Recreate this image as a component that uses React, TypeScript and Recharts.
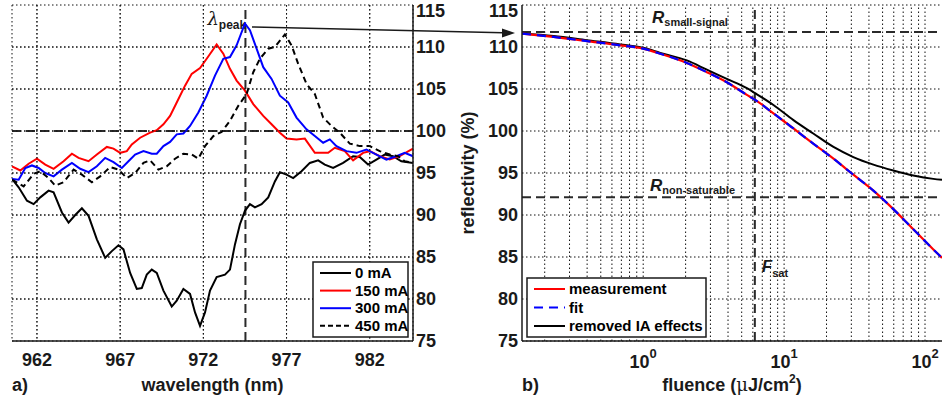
import React from "react";
import { LineChart, Line, XAxis, YAxis, CartesianGrid, ReferenceLine, Label } from "recharts";

// panel a) reflectivity spectra, wavelength in nm
const wl0 = [960.5, 960.9, 961.4, 961.8, 962.2, 962.7, 963.0, 963.5, 963.9, 964.3, 964.7, 965.1, 965.6, 966.1, 966.5, 966.9, 967.2, 967.6, 968.0, 968.3, 968.6, 968.9, 969.2, 969.6, 970.1, 970.4, 970.8, 971.2, 971.5, 971.8, 972.1, 972.4, 972.8, 973.3, 973.6, 973.9, 974.2, 974.5, 974.8, 975.1, 975.5, 975.9, 976.3, 976.6, 977.0, 977.4, 977.9, 978.4, 978.9, 979.3, 979.8, 980.4, 981.0, 981.4, 981.9, 982.4, 982.9, 983.4, 983.9, 984.6]
const r0 = [94.3, 93.3, 91.7, 91.3, 92.1, 92.9, 92.7, 90.3, 89.1, 90.0, 90.8, 89.9, 87.1, 84.9, 85.7, 86.4, 85.9, 83.1, 81.2, 81.3, 82.9, 83.5, 83.1, 81.0, 79.1, 79.8, 81.2, 80.6, 78.4, 76.8, 78.4, 81.0, 82.6, 82.9, 83.5, 86.5, 88.9, 90.5, 91.3, 90.9, 91.3, 92.1, 94.0, 95.1, 94.8, 94.4, 95.2, 96.2, 96.5, 96.0, 95.6, 96.2, 97.0, 96.9, 96.0, 96.6, 97.2, 97.0, 96.4, 96.2]

const wl150 = [960.5, 961.0, 961.5, 962.0, 962.5, 963.0, 963.6, 964.1, 964.5, 965.1, 965.6, 966.2, 966.6, 967.0, 967.4, 967.7, 968.2, 968.8, 969.2, 969.6, 970.0, 970.4, 970.9, 971.3, 971.8, 972.2, 972.8, 973.2, 973.6, 974.0, 974.5, 975.0, 975.6, 976.1, 976.6, 977.0, 977.6, 978.1, 978.7, 979.5, 979.9, 980.5, 981.0, 981.6, 982.0, 982.6, 983.2, 983.8, 984.6]
const r150 = [95.8, 95.3, 96.1, 96.7, 96.0, 95.5, 96.4, 97.3, 96.8, 96.4, 97.2, 98.1, 97.9, 97.4, 97.6, 98.4, 99.2, 99.8, 100.1, 100.8, 101.8, 103.4, 105.4, 106.8, 107.5, 108.6, 110.3, 109.2, 107.4, 106.0, 104.8, 103.2, 101.8, 100.8, 99.8, 99.1, 99.0, 99.1, 97.4, 97.4, 98.0, 97.6, 96.5, 97.4, 97.6, 97.0, 96.6, 97.0, 97.9]

const wl300 = [960.5, 960.9, 961.3, 961.7, 962.1, 962.5, 963.0, 963.5, 964.1, 964.6, 965.1, 965.6, 966.1, 966.6, 967.1, 967.5, 967.9, 968.4, 968.9, 969.2, 969.6, 970.0, 970.4, 970.8, 971.2, 971.7, 972.2, 972.7, 973.2, 973.6, 974.0, 974.5, 974.8, 975.2, 975.6, 976.1, 976.6, 977.1, 977.6, 978.2, 978.7, 979.2, 979.6, 980.0, 980.6, 981.2, 981.8, 982.4, 983.0, 983.6, 984.1, 984.6]
const r300 = [94.3, 94.2, 95.6, 95.9, 95.6, 95.0, 94.6, 95.4, 96.2, 95.5, 95.1, 95.8, 96.8, 96.3, 95.6, 96.4, 97.2, 97.6, 97.3, 97.3, 98.2, 98.7, 99.6, 99.7, 100.6, 102.2, 104.2, 106.6, 108.6, 108.8, 110.2, 112.8, 112.0, 109.8, 107.6, 106.2, 104.2, 103.4, 101.6, 100.2, 99.4, 98.6, 99.0, 98.2, 97.6, 97.4, 97.8, 97.2, 96.6, 97.0, 97.4, 97.0]

const wl450 = [960.5, 961.2, 961.8, 962.2, 962.7, 963.1, 963.6, 964.2, 964.7, 965.3, 965.8, 966.4, 966.9, 967.4, 967.9, 968.4, 968.8, 969.3, 969.8, 970.3, 970.8, 971.3, 971.7, 972.1, 972.6, 973.1, 973.6, 974.1, 974.6, 975.0, 975.4, 975.9, 976.3, 976.9, 977.3, 977.7, 978.2, 978.7, 979.2, 979.7, 980.2, 980.8, 981.4, 982.0, 982.6, 983.2, 983.7, 984.1, 984.6]
const r450 = [94.2, 93.4, 94.9, 95.2, 94.4, 93.5, 93.9, 95.4, 94.8, 93.9, 94.6, 95.7, 95.4, 94.4, 95.0, 96.2, 96.5, 95.4, 95.8, 96.7, 97.3, 97.2, 96.7, 98.2, 99.4, 99.9, 101.2, 103.0, 104.4, 107.0, 108.6, 109.8, 110.0, 111.5, 110.2, 108.0, 105.6, 104.4, 101.6, 100.6, 99.8, 98.5, 98.2, 98.2, 97.6, 97.2, 97.0, 96.4, 96.2]

const wlDomain = [960.5, 984.6]
const wlTicks = [962, 967, 972, 977, 982]
const rDomain = [75, 115]
const rTicks = [75, 80, 85, 90, 95, 100, 105, 110, 115]
const rGridA = [80, 85, 90, 95, 100, 105, 110]
const lambdaPeak = 974.53

// panel b) reflectivity vs fluence (uJ/cm^2)
const fluence = [0.138, 0.231, 0.399, 0.687, 1, 1.32, 2.04, 2.83, 3.92, 5.44, 6.23, 8.4, 11.65, 16.1, 22.4, 31.0, 43.0, 59.6, 82.6, 114.6, 132]
const measurement = [111.6, 111.2, 110.7, 110.2, 109.8, 109.2, 108.1, 107.0, 105.8, 104.3, 103.7, 102.1, 100.3, 98.5, 96.7, 94.8, 92.9, 90.7, 88.3, 85.9, 84.9]
const fit = [111.6, 111.2, 110.7, 110.2, 109.8, 109.2, 108.1, 107.0, 105.8, 104.3, 103.7, 102.1, 100.3, 98.5, 96.7, 94.8, 92.9, 90.7, 88.3, 85.9, 84.9]
const removedIA = [111.6, 111.3, 110.8, 110.3, 109.9, 109.3, 108.4, 107.3, 106.2, 105.1, 104.5, 103.1, 101.3, 99.7, 98.1, 96.9, 96.0, 95.3, 94.7, 94.3, 94.2]
const fluenceDomain = [0.138, 132]
const fluenceTicks = [1, 10, 100]
const fluenceGrid = [0.2, 0.3, 0.4, 0.5, 0.6, 0.7, 0.8, 0.9, 1, 2, 3, 4, 5, 6, 7, 8, 9, 10, 20, 30, 40, 50, 60, 70, 80, 90, 100]
const rSmallSignal = 111.8
const rNonSat = 92.1
const fSat = 6.2

const legendA = [
  { name: "0 mA", color: "#000", dash: undefined },
  { name: "150 mA", color: "#ff0000", dash: undefined },
  { name: "300 mA", color: "#0000ff", dash: undefined },
  { name: "450 mA", color: "#000", dash: "5 3" },
]
const legendB = [
  { name: "measurement", color: "#ff0000", dash: undefined },
  { name: "fit", color: "#0000ff", dash: "9 6" },
  { name: "removed IA effects", color: "#000", dash: undefined },
]

const zip = (xs: number[], ys: number[]) => xs.map((x, i) => ({ x, y: ys[i] }))

const FONT = "'Liberation Sans', Arial, Helvetica, sans-serif"
const INK = "#1a1a1a"
const tickStyle = { fill: INK, fontSize: 18, fontWeight: 700, fontFamily: FONT }
const gridDash = "1.5 2.5"
const gridColor = "#111"
const refStyle = { stroke: "#2a2a2a", strokeWidth: 2, strokeDasharray: "9 5" }
const axisLine = { stroke: INK, strokeWidth: 1.5 }
const leftMargin = { top: 5, right: 0, bottom: 0, left: 12 }

// plot box of panel a): chart 460x404, left margin 12, right axis 47, top 5, bottom axis 63
const boxA = { x0: 12, x1: 460 - 47, y0: 5, y1: 404 - 63 }
const gxA = (v: number) => boxA.x0 + ((v - wlDomain[0]) / (wlDomain[1] - wlDomain[0])) * (boxA.x1 - boxA.x0)
const gyA = (v: number) => boxA.y0 + ((rDomain[1] - v) / (rDomain[1] - rDomain[0])) * (boxA.y1 - boxA.y0)

function PowTick({ x, y, payload }: any) {
  const exp = Math.round(Math.log10(payload.value))
  return (
    <text x={x} y={y + 15} textAnchor="middle" fill={INK} fontSize={18} fontWeight={700} fontFamily={FONT}>
      <tspan>10</tspan>
      <tspan dy={-10} fontSize={13}>{exp}</tspan>
    </text>
  )
}

function Legend({ x, y, w, h, rowH, items }: any) {
  return (
    <g>
      <rect x={x} y={y} width={w} height={h} fill="#fff" stroke={INK} strokeWidth={1.5} />
      {items.map((it: any, i: number) => {
        const cy = y + 11 + i * rowH
        return (
          <g key={it.name}>
            <line x1={x + 7} x2={x + 38} y1={cy} y2={cy} stroke={it.color} strokeWidth={2} strokeDasharray={it.dash} />
            <text x={x + 42} y={cy + 5} fontSize={15} fontWeight={700} fontFamily={FONT} fill="#000">{it.name}</text>
          </g>
        )
      })}
    </g>
  )
}

export default function App() {
  return (
    <div style={{ position: "relative", width: 942, height: 404, background: "#fff", overflow: "hidden" }}>
      <style>{"body{margin:0}"}</style>

      <div style={{ position: "absolute", left: 0, top: 0 }}>
        <LineChart width={460} height={404} margin={leftMargin}>
          <CartesianGrid yAxisId="r" stroke={gridColor} strokeDasharray={gridDash} strokeWidth={1} />
          <XAxis dataKey="x" type="number" domain={wlDomain} ticks={wlTicks} allowDataOverflow
            height={63} tickSize={0} tickMargin={12} tick={tickStyle} axisLine={axisLine}>
            <Label position="insideBottom" offset={13} value="wavelength (nm)"
              style={{ fontSize: 18, fontWeight: 700, fontFamily: FONT, fill: INK }} />
          </XAxis>
          <XAxis xAxisId="t" orientation="top" type="number" domain={wlDomain} height={0} tick={false} tickLine={false}
            axisLine={axisLine} />
          <YAxis yAxisId="l" orientation="left" domain={rDomain} width={0} tick={false} tickLine={false}
            axisLine={axisLine} />
          <YAxis yAxisId="r" orientation="right" domain={rDomain} ticks={rTicks} width={47} tickSize={0} tickMargin={3}
            tick={tickStyle} axisLine={axisLine} />
          <ReferenceLine yAxisId="r" y={100} {...refStyle} />
          <ReferenceLine yAxisId="r" x={lambdaPeak} {...refStyle}
            label={{
              content: ({ viewBox }: any) => (
                <text x={viewBox.x - 38} y={viewBox.y + 20} fill={INK}>
                  <tspan fontSize={18} fontStyle="italic" fontFamily="'DejaVu Serif', serif">λ</tspan>
                  <tspan dy={4} fontSize={12} fontWeight={700} fontFamily={FONT}>peak</tspan>
                </text>
              ),
            }} />
          <Line yAxisId="r" data={zip(wl0, r0)} dataKey="y" type="linear" stroke="#000" strokeWidth={2} dot={false} isAnimationActive={false} />
          <Line yAxisId="r" data={zip(wl150, r150)} dataKey="y" type="linear" stroke="#ff0000" strokeWidth={2} dot={false} isAnimationActive={false} />
          <Line yAxisId="r" data={zip(wl300, r300)} dataKey="y" type="linear" stroke="#0000ff" strokeWidth={2} dot={false} isAnimationActive={false} />
          <Line yAxisId="r" data={zip(wl450, r450)} dataKey="y" type="linear" stroke="#000" strokeWidth={2} strokeDasharray="6 4" dot={false} isAnimationActive={false} />
        </LineChart>
      </div>

      <div style={{ position: "absolute", left: 470, top: 0 }}>
        <LineChart width={472} height={404} margin={{ top: 5, right: 0, bottom: 0, left: 0 }}>
          <CartesianGrid vertical={false} stroke={gridColor} strokeDasharray={gridDash} strokeWidth={1} />
          {fluenceGrid.map((v) => (
            <ReferenceLine key={v} x={v} stroke={gridColor} strokeDasharray={gridDash} strokeWidth={1} />
          ))}
          <XAxis dataKey="x" type="number" scale="log" domain={fluenceDomain} ticks={fluenceTicks} allowDataOverflow
            height={63} tickSize={0} tickMargin={12} tick={<PowTick />} axisLine={axisLine}>
            <Label content={({ viewBox }: any) => (
              <text x={viewBox.x + viewBox.width / 2} y={viewBox.y + viewBox.height - 13} textAnchor="middle"
                fontSize={18} fontWeight={700} fontFamily={FONT} fill={INK}>
                fluence (<tspan fontFamily="'DejaVu Serif', serif" fontWeight={400}>μ</tspan>J/cm<tspan dy={-8} fontSize={12}>2</tspan><tspan dy={8}>)</tspan>
              </text>
            )} />
          </XAxis>
          <XAxis xAxisId="t" orientation="top" type="number" scale="log" domain={fluenceDomain} height={0} tick={false}
            tickLine={false} axisLine={axisLine} />
          <YAxis domain={rDomain} ticks={rTicks} width={52} tickSize={0} tickMargin={4} tick={tickStyle}
            axisLine={axisLine} />
          <ReferenceLine y={rSmallSignal} {...refStyle}
            label={{
              content: ({ viewBox }: any) => (
                <text x={viewBox.x + 130} y={viewBox.y - 9} fill={INK} fontFamily={FONT} fontWeight={700}>
                  <tspan fontSize={17} fontStyle="italic">R</tspan>
                  <tspan dy={3} fontSize={11}>small-signal</tspan>
                </text>
              ),
            }} />
          <ReferenceLine y={rNonSat} {...refStyle}
            label={{
              content: ({ viewBox }: any) => (
                <text x={viewBox.x + 128} y={viewBox.y - 6} fill={INK} fontFamily={FONT} fontWeight={700}>
                  <tspan fontSize={17} fontStyle="italic">R</tspan>
                  <tspan dy={3} fontSize={11}>non-saturable</tspan>
                </text>
              ),
            }} />
          <ReferenceLine x={fSat} {...refStyle}
            label={{
              content: ({ viewBox }: any) => (
                <text x={viewBox.x + 7} y={viewBox.y + 267} fill={INK} fontFamily={FONT} fontWeight={700}>
                  <tspan fontSize={17} fontStyle="italic">F</tspan>
                  <tspan dy={5} fontSize={11}>sat</tspan>
                </text>
              ),
            }} />
          <Line data={zip(fluence, removedIA)} dataKey="y" type="monotone" stroke="#000" strokeWidth={2} dot={false} isAnimationActive={false} />
          <Line data={zip(fluence, measurement)} dataKey="y" type="monotone" stroke="#ff0000" strokeWidth={2.2} dot={false} isAnimationActive={false} />
          <Line data={zip(fluence, fit)} dataKey="y" type="monotone" stroke="#0000ff" strokeWidth={2.2} strokeDasharray="9 6" dot={false} isAnimationActive={false} />
        </LineChart>
      </div>

      <svg width={942} height={404} style={{ position: "absolute", left: 0, top: 0, pointerEvents: "none" }}>
        {/* dotted grid of panel a) at the axis tick values */}
        {wlTicks.map((v) => (
          <line key={"vx" + v} x1={gxA(v)} x2={gxA(v)} y1={boxA.y0} y2={boxA.y1} stroke={gridColor} strokeWidth={1} strokeDasharray={gridDash} />
        ))}
        {rGridA.map((v) => (
          <line key={"hy" + v} x1={boxA.x0} x2={boxA.x1} y1={gyA(v)} y2={gyA(v)} stroke={gridColor} strokeWidth={1} strokeDasharray={gridDash} />
        ))}
        <line x1={252} y1={27} x2={503} y2={32.8} stroke={INK} strokeWidth={1.5} />
        <polygon points="515,33 502,28.5 502,37.5" fill={INK} />
        <text x={12} y={391} fontSize={18} fontWeight={700} fontFamily={FONT} fill={INK}>a)</text>
        <text x={522} y={391} fontSize={18} fontWeight={700} fontFamily={FONT} fill={INK}>b)</text>
        <text transform="translate(474,173) rotate(-90)" textAnchor="middle" fontSize={18} fontWeight={700}
          fontFamily={FONT} fill={INK}>reflectivity (%)</text>
        <Legend x={313} y={262} w={95} h={75} rowH={17.6} items={legendA} />
        <Legend x={527} y={278} w={179} h={59} rowH={18.5} items={legendB} />
      </svg>
    </div>
  )
}
